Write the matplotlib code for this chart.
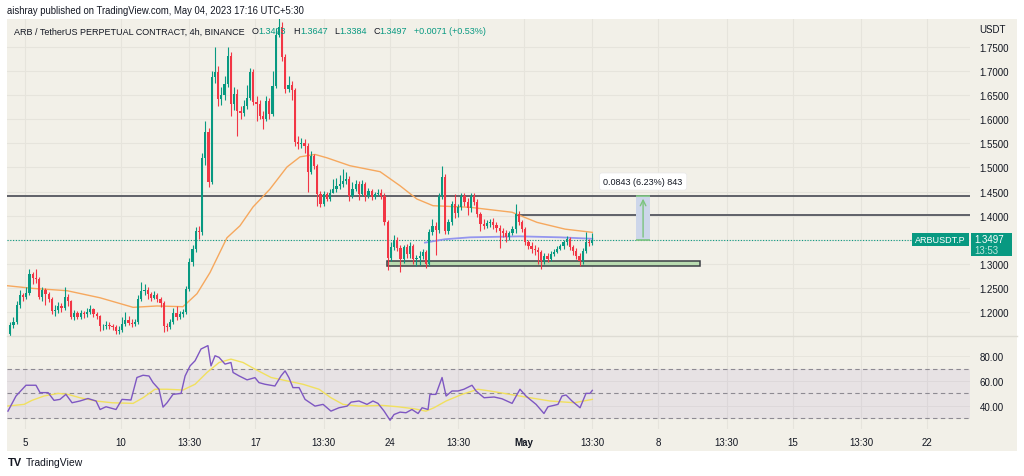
import matplotlib
matplotlib.use("Agg")
import matplotlib.pyplot as plt
from matplotlib.patches import Rectangle
import numpy as np

plt.rcParams['font.family'] = ['Liberation Sans', 'DejaVu Sans']

# ARB/USDT perpetual, 4h bars
# time axis is "April day" (Apr 10 00:00 = 10.0, May 1 = 31.0), UTC+5:30
first_open = 1.155
closes = [
    1.172, 1.180, 1.215, 1.235, 1.232, 1.240, 1.278, 1.270, 1.268, 1.232,
    1.245, 1.238, 1.228, 1.202, 1.205, 1.212, 1.208, 1.232, 1.222, 1.190,
    1.198, 1.190, 1.198, 1.196, 1.200, 1.206, 1.196, 1.192, 1.170, 1.170,
    1.174, 1.171, 1.168, 1.160, 1.162, 1.175, 1.183, 1.178, 1.175, 1.180,
    1.228, 1.244, 1.246, 1.238, 1.230, 1.236, 1.226, 1.218, 1.170, 1.168,
    1.180, 1.198, 1.190, 1.196, 1.200, 1.248, 1.304, 1.330, 1.368, 1.366,
    1.520, 1.574, 1.470, 1.688, 1.698, 1.642, 1.650, 1.673, 1.732, 1.632,
    1.652, 1.617, 1.612, 1.628, 1.645, 1.698, 1.636, 1.631, 1.607, 1.600,
    1.638, 1.611, 1.670, 1.775, 1.792, 1.729, 1.663, 1.672, 1.660, 1.553,
    1.548, 1.551, 1.545, 1.490, 1.524, 1.504, 1.445, 1.424, 1.445, 1.435,
    1.448, 1.455, 1.462, 1.466, 1.4725, 1.476, 1.441, 1.455, 1.466, 1.445,
    1.466, 1.441, 1.452, 1.438, 1.445, 1.448, 1.441, 1.386, 1.313, 1.334,
    1.350, 1.333, 1.310, 1.334, 1.320, 1.337, 1.310, 1.312, 1.317, 1.324,
    1.300, 1.366, 1.379, 1.370, 1.441, 1.480, 1.369, 1.386, 1.424, 1.405,
    1.417, 1.441, 1.428, 1.415, 1.441, 1.428, 1.403, 1.383, 1.379, 1.384,
    1.386, 1.381, 1.375, 1.369, 1.365, 1.355, 1.365, 1.372, 1.403, 1.386,
    1.372, 1.345, 1.338, 1.331, 1.328, 1.324, 1.306, 1.317, 1.310, 1.320,
    1.324, 1.331, 1.336, 1.345, 1.352, 1.334, 1.327, 1.317, 1.306, 1.327,
    1.345, 1.3423, 1.3497,
]
highs = [
    1.180, 1.190, 1.222, 1.246, 1.240, 1.252, 1.290, 1.283, 1.289, 1.272,
    1.252, 1.250, 1.242, 1.232, 1.214, 1.220, 1.218, 1.251, 1.238, 1.225,
    1.204, 1.202, 1.205, 1.203, 1.208, 1.214, 1.209, 1.200, 1.194, 1.176,
    1.182, 1.180, 1.176, 1.172, 1.170, 1.190, 1.200, 1.192, 1.185, 1.186,
    1.236, 1.262, 1.258, 1.252, 1.242, 1.244, 1.240, 1.232, 1.222, 1.178,
    1.186, 1.208, 1.212, 1.203, 1.206, 1.254, 1.312, 1.340, 1.376, 1.378,
    1.530, 1.596, 1.582, 1.701, 1.749, 1.710, 1.668, 1.690, 1.750, 1.740,
    1.666, 1.662, 1.628, 1.640, 1.672, 1.706, 1.704, 1.648, 1.640, 1.618,
    1.648, 1.645, 1.700, 1.790, 1.810, 1.802, 1.736, 1.690, 1.680, 1.664,
    1.566, 1.562, 1.560, 1.550, 1.535, 1.528, 1.508, 1.452, 1.452, 1.450,
    1.456, 1.476, 1.478, 1.485, 1.496, 1.490, 1.482, 1.470, 1.474, 1.472,
    1.474, 1.470, 1.458, 1.456, 1.450, 1.455, 1.455, 1.448, 1.390, 1.345,
    1.360, 1.356, 1.340, 1.340, 1.342, 1.345, 1.342, 1.318, 1.326, 1.331,
    1.328, 1.372, 1.392, 1.386, 1.448, 1.503, 1.486, 1.392, 1.430, 1.445,
    1.425, 1.446, 1.448, 1.436, 1.446, 1.447, 1.434, 1.408, 1.392, 1.390,
    1.392, 1.396, 1.386, 1.380, 1.374, 1.370, 1.369, 1.378, 1.424, 1.410,
    1.390, 1.376, 1.350, 1.346, 1.340, 1.334, 1.328, 1.322, 1.322, 1.326,
    1.330, 1.338, 1.342, 1.350, 1.358, 1.356, 1.340, 1.332, 1.322, 1.332,
    1.366, 1.352, 1.3647,
]
lows = [
    1.150, 1.166, 1.176, 1.208, 1.222, 1.226, 1.236, 1.258, 1.260, 1.226,
    1.222, 1.214, 1.220, 1.196, 1.192, 1.198, 1.200, 1.204, 1.212, 1.185,
    1.184, 1.185, 1.186, 1.188, 1.190, 1.196, 1.190, 1.186, 1.160, 1.162,
    1.164, 1.165, 1.162, 1.155, 1.154, 1.158, 1.170, 1.172, 1.168, 1.170,
    1.176, 1.222, 1.236, 1.228, 1.222, 1.226, 1.220, 1.210, 1.158, 1.160,
    1.164, 1.176, 1.184, 1.186, 1.190, 1.196, 1.244, 1.296, 1.324, 1.352,
    1.360, 1.505, 1.460, 1.466, 1.676, 1.628, 1.630, 1.640, 1.668, 1.606,
    1.620, 1.565, 1.600, 1.606, 1.622, 1.640, 1.630, 1.596, 1.600, 1.580,
    1.596, 1.600, 1.606, 1.664, 1.770, 1.720, 1.655, 1.656, 1.640, 1.545,
    1.538, 1.540, 1.530, 1.449, 1.486, 1.496, 1.420, 1.418, 1.420, 1.430,
    1.430, 1.446, 1.450, 1.455, 1.460, 1.466, 1.430, 1.436, 1.452, 1.432,
    1.440, 1.430, 1.436, 1.432, 1.434, 1.440, 1.435, 1.380, 1.288, 1.306,
    1.328, 1.326, 1.283, 1.302, 1.312, 1.312, 1.300, 1.296, 1.298, 1.310,
    1.292, 1.296, 1.360, 1.318, 1.364, 1.434, 1.362, 1.362, 1.380, 1.396,
    1.398, 1.412, 1.420, 1.402, 1.408, 1.422, 1.398, 1.368, 1.372, 1.374,
    1.376, 1.372, 1.366, 1.332, 1.356, 1.345, 1.350, 1.360, 1.364, 1.380,
    1.366, 1.340, 1.330, 1.322, 1.318, 1.300, 1.290, 1.300, 1.304, 1.305,
    1.316, 1.322, 1.328, 1.330, 1.340, 1.328, 1.318, 1.310, 1.295, 1.300,
    1.322, 1.336, 1.3384,
]
last_bar_time = 34.5625      # May 4, 13:30
bar_hours = 4

# orange moving average, read at points along the curve
ma_t = [4.06, 5.41, 7.19, 8.91, 10.63, 11.88, 13.23, 13.96, 14.64, 15.52,
        16.20, 16.88, 17.76, 18.65, 19.33, 20.11, 20.73, 21.93, 23.50, 24.54,
        25.42, 26.26, 28.19, 30.38, 31.68, 33.14, 34.56]
ma_v = [1.2546, 1.249, 1.2442, 1.2295, 1.2097, 1.2125, 1.211, 1.238, 1.282, 1.354,
        1.379, 1.418, 1.455, 1.501, 1.522, 1.527, 1.520, 1.5036, 1.4912, 1.462,
        1.4345, 1.4206, 1.4173, 1.407, 1.386, 1.372, 1.3653]

# blue/purple line on the price pane
vw_t = [25.84, 26.88, 28.19, 30.79, 32.88, 34.56]
vw_v = [1.344, 1.351, 1.355, 1.357, 1.355, 1.352]

# RSI and its moving average
rsi_t = [4.11, 4.53, 5.05, 5.57, 5.78, 6.20, 6.51, 6.82, 7.13, 7.45,
         7.86, 8.28, 8.70, 8.91, 9.22, 9.74, 10.05, 10.52, 10.83, 11.15,
         11.46, 11.67, 11.98, 12.19, 12.40, 12.71, 13.13, 13.34, 13.60, 13.86,
         14.17, 14.53, 14.69, 14.90, 15.11, 15.42, 15.73, 15.84, 16.15, 16.57,
         16.98, 17.19, 17.50, 18.02, 18.34, 18.55, 18.75, 18.96, 19.28, 19.59,
         20.11, 20.53, 20.94, 21.36, 21.78, 21.99, 22.40, 22.82, 23.13, 23.39,
         23.71, 24.02, 24.23, 24.54, 24.85, 25.16, 25.48, 25.69, 26.00, 26.10,
         26.41, 26.73, 26.94, 27.25, 27.56, 27.87, 28.29, 28.50, 28.92, 29.44,
         29.85, 30.38, 30.79, 31.10, 31.31, 31.63, 32.04, 32.25, 32.56, 32.77,
         32.98, 33.19, 33.50, 33.92, 34.23, 34.44, 34.56]
rsi_v = [35.9, 48.0, 56.6, 56.6, 50.7, 50.7, 44.5, 45.3, 49.3, 42.6,
         44.0, 46.0, 44.0, 37.2, 39.4, 37.2, 45.3, 44.8, 62.8, 64.6,
         64.0, 58.7, 53.4, 39.1, 42.6, 49.3, 50.1, 64.0, 72.1, 76.2,
         85.6, 88.3, 72.1, 80.2, 78.9, 73.5, 74.8, 66.8, 64.1, 60.9,
         62.7, 58.7, 57.4, 56.0, 64.1, 68.1, 62.7, 54.7, 54.7, 45.3,
         39.9, 41.3, 35.9, 38.6, 39.9, 43.1, 44.0, 41.3, 44.0, 42.1,
         35.9, 28.6, 33.2, 35.1, 34.6, 37.2, 34.0, 38.6, 37.2, 49.3,
         49.3, 62.8, 48.0, 52.0, 52.0, 53.4, 56.6, 52.0, 46.6, 47.2,
         45.8, 42.1, 53.4, 48.0, 45.3, 41.3, 34.0, 39.4, 40.5, 41.3,
         48.0, 48.8, 44.0, 38.6, 50.1, 50.1, 52.5]
rsi_ma_t = [4.11, 4.95, 5.36, 5.99, 6.72, 7.24, 7.86, 8.70, 9.53, 10.63,
            11.15, 11.77, 12.40, 13.23, 13.86, 14.48, 15.11, 15.73, 16.36, 16.98,
            17.82, 18.65, 19.48, 20.32, 20.94, 21.57, 22.40, 23.60, 24.43, 25.27,
            25.89, 26.31, 26.94, 27.77, 28.60, 29.23, 30.27, 31.31, 32.36, 33.61,
            34.56]
rsi_ma_v = [40.0, 41.3, 44.5, 48.0, 50.1, 49.3, 46.6, 44.0, 42.6, 42.1,
            46.6, 53.4, 53.4, 52.8, 57.4, 66.8, 74.8, 77.5, 74.8, 69.5,
            62.8, 60.1, 57.4, 53.4, 46.6, 41.3, 39.9, 40.5, 39.4, 37.8,
            35.9, 38.6, 44.0, 49.3, 53.4, 52.0, 49.3, 46.6, 44.0, 42.6,
            45.3]

tick_t = [5, 10, 13.5625, 17, 20.5625, 24, 27.5625, 31, 34.5625, 38,
          41.5625, 45, 48.5625, 52]
tick_lab = ['5', '10', '13:30', '17', '13:30', '24', '13:30', 'May', '13:30', '8',
            '13:30', '15', '13:30', '22']
price_ticks = [1.20, 1.25, 1.30, 1.35, 1.40, 1.45, 1.50, 1.55, 1.60, 1.65, 1.70, 1.75]
rsi_ticks = [40, 60, 80]

# drawings
res_high = 1.441
res_low = 1.4023
res_low_from = 30.64
zone_lo, zone_hi = 1.2948, 1.3052
zone_from, zone_to = 23.85, 40.17
last_price = 1.3497
measure_from, measure_to = 36.84, 37.57
measure_text = "0.0843 (6.23%) 843"

UP = '#089981'
DOWN = '#f23645'
BG = '#f2f0e8'
GRID = '#e6e4dc'
TXT = '#131722'

W, H = 1024, 477
fig = plt.figure(figsize=(W / 100, H / 100), dpi=100)
fig.patch.set_facecolor('white')


def fx(px):
    return px / W


def fy(py):
    return 1 - py / H


# beige chart background (chart + price scale + time scale)
fig.add_artist(Rectangle((fx(7), fy(452)), fx(1017) - fx(7), fy(20) - fy(452),
                         transform=fig.transFigure, facecolor=BG, edgecolor='none', zorder=-5))

ax = fig.add_axes([fx(7), fy(337), fx(970) - fx(7), fy(20) - fy(337)])
rax = fig.add_axes([fx(7), fy(430), fx(970) - fx(7), fy(337) - fy(430)], sharex=ax)
for a in (ax, rax):
    a.set_facecolor(BG)
    for s in a.spines.values():
        s.set_visible(False)
    for t in tick_t:
        a.axvline(t, color=GRID, lw=0.8, zorder=0)

ax.set_xlim(4.06, 54.24)
ax.set_ylim(1.1502, 1.8081)
rax.set_ylim(21.6, 96)

# price grid
for p in price_ticks:
    ax.axhline(p, color=GRID, lw=0.8, zorder=0)

# candles
n = len(closes)
times = np.array([last_bar_time - (n - 1 - i) * bar_hours / 24 for i in range(n)])
c = np.array(closes)
o = np.array([first_open] + closes[:-1])
cols = [UP if cc >= oo else DOWN for cc, oo in zip(c, o)]
ax.vlines(times, lows, highs, colors=cols, lw=0.8, zorder=5)
body = np.maximum(np.abs(c - o), 0.0012)
ax.bar(times, body, bottom=np.minimum(c, o), width=0.115, color=cols, zorder=6, linewidth=0)

ax.plot(ma_t, ma_v, color='#f6a85e', lw=1.0, zorder=4)
ax.plot(vw_t, vw_v, color='#8a8cf0', lw=1.3, alpha=0.9, zorder=4)

# horizontal lines and zone
ax.axhline(res_high, color='#5f6168', lw=1.4, zorder=3)
ax.hlines(res_low, res_low_from, 60, color='#5f6168', lw=1.4, zorder=3)
ax.add_patch(Rectangle((zone_from, zone_lo), zone_to - zone_from, zone_hi - zone_lo,
                       facecolor='#b9dbb0', edgecolor='#3c3f45', lw=1.1, zorder=3))
ax.hlines(last_price, 4.06, 51.22, color=UP, lw=0.8, linestyles=(0, (1, 1.5)), zorder=3)

# measuring tool
ax.add_patch(Rectangle((measure_from, last_price), measure_to - measure_from, res_high - last_price,
                       facecolor='#cdd6ea', edgecolor='none', zorder=3))
ax.hlines([last_price, res_high], measure_from, measure_to, color='#7cc47f', lw=1.2, zorder=4)
mx = (measure_from + measure_to) / 2
ax.annotate('', xy=(mx, res_high), xytext=(mx, last_price),
            arrowprops=dict(arrowstyle='->', color='#7cc47f', lw=1.0), zorder=4)
ax.text(mx, 1.4708, measure_text, ha='center', va='center', fontsize=6.5, color=TXT,
        bbox=dict(boxstyle='round,pad=0.45,rounding_size=0.3', fc='white', ec='#e8e8e8', lw=0.5),
        zorder=7)

# price scale
lab_ticks = [p for p in price_ticks if abs(p - 1.35) > 1e-9]
ax.yaxis.tick_right()
ax.set_yticks(lab_ticks)
ax.set_yticklabels([f"{p:.4f}" for p in lab_ticks])
ax.tick_params(axis='y', length=0, pad=7, labelsize=7, labelcolor=TXT)
ax.tick_params(axis='x', length=0, labelbottom=False)
fig.text(fx(979), fy(30), 'USDT', fontsize=7, color=TXT, va='center', ha='left')

# last price labels
fig.add_artist(Rectangle((fx(912), fy(247)), fx(969) - fx(912), fy(234) - fy(247),
                         transform=fig.transFigure, facecolor=UP, edgecolor='none', zorder=8))
fig.text(fx(940.5), fy(240.5), 'ARBUSDT.P', fontsize=6.5, color='white', ha='center', va='center', zorder=9)
fig.add_artist(Rectangle((fx(971), fy(257)), fx(1012) - fx(971), fy(234) - fy(257),
                         transform=fig.transFigure, facecolor=UP, edgecolor='none', zorder=8))
fig.text(fx(974), fy(240), f"{last_price:.4f}", fontsize=7, color='white', ha='left', va='center', zorder=9)
fig.text(fx(974), fy(251), '13:53', fontsize=7, color='#bfe6dd', ha='left', va='center', zorder=9)

# RSI pane
rax.axhspan(30, 70, color='#7e57c2', alpha=0.09, lw=0, zorder=1)
for lvl in (70, 50, 30):
    rax.axhline(lvl, color='#8d8a92', lw=0.8, dashes=(4, 3), zorder=2)
for lvl in rsi_ticks:
    rax.axhline(lvl, color=GRID, lw=0.6, zorder=0)
rax.plot(rsi_ma_t, rsi_ma_v, color='#f1e05e', lw=1.0, zorder=3)
rax.plot(rsi_t, rsi_v, color='#7e57c2', lw=1.0, zorder=4)
rax.yaxis.tick_right()
rax.set_yticks(rsi_ticks)
rax.set_yticklabels([f"{v:.2f}" for v in rsi_ticks])
rax.tick_params(axis='y', length=0, pad=7, labelsize=7, labelcolor=TXT)
rax.set_xticks(tick_t)
rax.set_xticklabels(tick_lab)
rax.tick_params(axis='x', length=0, pad=6, labelsize=7, labelcolor=TXT)
rax.get_xticklabels()[tick_lab.index('May')].set_fontweight('bold')

# pane separator
fig.add_artist(plt.Line2D([fx(7), fx(1017)], [fy(337), fy(337)], transform=fig.transFigure,
                          color='#dedcd4', lw=1.0))

# header texts
fig.text(fx(7), fy(11), 'aishray published on TradingView.com, May 04, 2023 17:16 UTC+5:30',
         fontsize=6.85, color=TXT, va='center', ha='left')
hy = fy(32)
fig.text(fx(14), hy, 'ARB / TetherUS PERPETUAL CONTRACT, 4h, BINANCE', fontsize=6.5, color=TXT, va='center')
legend_parts = [(252, 'O', TXT), (258, '1.3423', UP), (293, 'H', TXT), (300, '1.3647', UP),
                (334, 'L', TXT), (339, '1.3384', UP), (373, 'C', TXT), (379, '1.3497', UP),
                (414, '+0.0071 (+0.53%)', UP)]
for px, s, col in legend_parts:
    fig.text(fx(px), hy, s, fontsize=6.5, color=col, va='center')

# logo
fig.text(fx(8), fy(463), 'TV', fontsize=8, color=TXT, fontweight='heavy', va='center')
fig.text(fx(26), fy(463), 'TradingView', fontsize=7.5, color=TXT, va='center')

fig.savefig('out.png', dpi=100, facecolor='white')
